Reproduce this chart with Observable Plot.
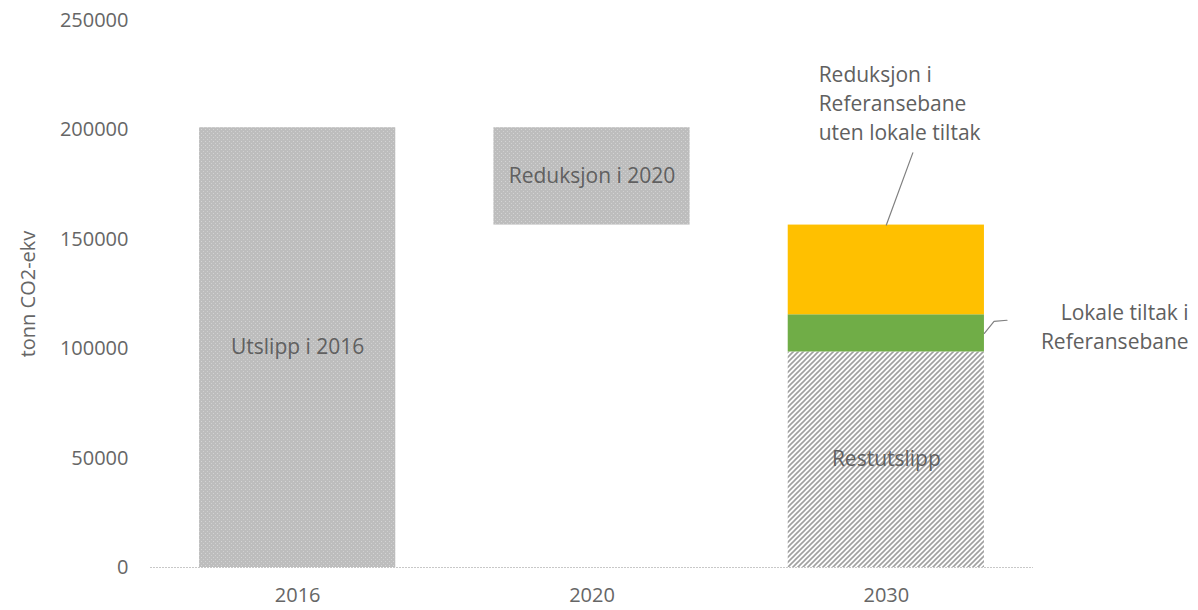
<!DOCTYPE html>
<html><head><meta charset="utf-8">
<script src="https://cdn.jsdelivr.net/npm/d3@7"></script>
<script src="https://cdn.jsdelivr.net/npm/@observablehq/plot@0.6"></script>
<style>body{margin:0;background:#fff;overflow:hidden}</style>
</head><body><div id="chart"></div>
<script>
// --- data ---
const years = ["2016", "2020", "2030"];
const utslipp2016 = 201000;
const nivaa2020 = 156500;
const restutslipp = 98500;
const lokaleTiltak = 17000;
const referanseReduksjon = 41000;
const yTicks = [0, 50000, 100000, 150000, 200000, 250000];
const barLabels = ["Utslipp i 2016", "Reduksjon i 2020", "Restutslipp"];
const noteReferanse = "Reduksjon i\nReferansebane\nuten lokale tiltak";
const noteLokale = "Lokale tiltak i\nReferansebane";

// --- derived table ---
const pad = 1 / 6;
const top2030 = restutslipp + lokaleTiltak + referanseReduksjon;
const segments = [
  {i: 0, y1: 0, y2: utslipp2016, fill: "url(#dots)"},
  {i: 1, y1: nivaa2020, y2: utslipp2016, fill: "url(#dots)"},
  {i: 2, y1: 0, y2: restutslipp, fill: "url(#hatch)"},
  {i: 2, y1: restutslipp, y2: restutslipp + lokaleTiltak, fill: "#70ad47"},
  {i: 2, y1: restutslipp + lokaleTiltak, y2: top2030, fill: "#ffc000"}
];
const labelRows = [
  {i: 0, y: utslipp2016 / 2, text: barLabels[0]},
  {i: 1, y: (nivaa2020 + utslipp2016) / 2, text: barLabels[1]},
  {i: 2, y: restutslipp / 2, text: barLabels[2]}
];
const leaderReferanse = [{x: 2.5, y: top2030}, {x: 2.59, y: 189500}];
const leaderLokale = [{x: 2.833, y: restutslipp + lokaleTiltak / 2}, {x: 2.866, y: 112500}, {x: 2.91, y: 113000}];

const svg = Plot.plot({
  width: 1198,
  height: 610,
  marginTop: 20,
  marginBottom: 43,
  marginLeft: 150,
  marginRight: 165,
  style: {fontFamily: "Open Sans", fontSize: "20px", color: "#666666", background: "#fff"},
  x: {domain: [0, 3]},
  y: {domain: [0, 250000]},
  color: {type: "identity"},
  marks: [
    Plot.rectY(segments, {x1: d => d.i + pad, x2: d => d.i + 1 - pad, y1: "y1", y2: "y2", fill: "fill"}),
    Plot.ruleY([0], {stroke: "#c8c8c8", strokeDasharray: "2,1"}),
    Plot.axisY({ticks: yTicks, tickFormat: d3.format("d"), tickSize: 0, tickPadding: 22, fontSize: 20,
      label: "tonn CO2-ekv", labelAnchor: "center", labelOffset: 130, labelArrow: "none", fill: "#666666"}),
    Plot.axisX({ticks: [0.5, 1.5, 2.5], tickFormat: t => years[Math.floor(t)], tickSize: 0, tickPadding: 20, fontSize: 20, label: null, fill: "#666666"}),
    Plot.text(labelRows, {x: d => d.i + 0.5, y: "y", text: "text", fill: "#606060", fontSize: 21}),
    Plot.line(leaderReferanse, {x: "x", y: "y", stroke: "#808080", strokeWidth: 1.2}),
    Plot.line(leaderLokale, {x: "x", y: "y", stroke: "#808080", strokeWidth: 1.2}),
    Plot.text([noteReferanse], {x: 2.27, y: 212700, text: d => d, textAnchor: "start", lineHeight: 1.38, fill: "#606060", fontSize: 21}),
    Plot.text([noteLokale], {x: 3.527, y: 110900, text: d => d, textAnchor: "end", lineHeight: 1.38, fill: "#606060", fontSize: 21})
  ]
});

const defs = d3.select(svg).insert("defs", ":first-child");
const dots = defs.append("pattern").attr("id", "dots").attr("patternUnits", "userSpaceOnUse").attr("width", 4).attr("height", 4);
dots.append("rect").attr("width", 4).attr("height", 4).attr("fill", "#bdbdbd");
dots.append("rect").attr("x", 1).attr("y", 1).attr("width", 1).attr("height", 1).attr("fill", "#d4d4d4");
dots.append("rect").attr("x", 3).attr("y", 3).attr("width", 1).attr("height", 1).attr("fill", "#d0d0d0");
const hatch = defs.append("pattern").attr("id", "hatch").attr("patternUnits", "userSpaceOnUse").attr("width", 5).attr("height", 5);
hatch.append("rect").attr("width", 5).attr("height", 5).attr("fill", "#ffffff");
hatch.append("path").attr("d", "M-1,6 L6,-1 M-1,1 L1,-1 M4,6 L6,4").attr("stroke", "#a0a0a0").attr("stroke-width", 1.6);

document.getElementById("chart").appendChild(svg);
</script>
</body></html>
